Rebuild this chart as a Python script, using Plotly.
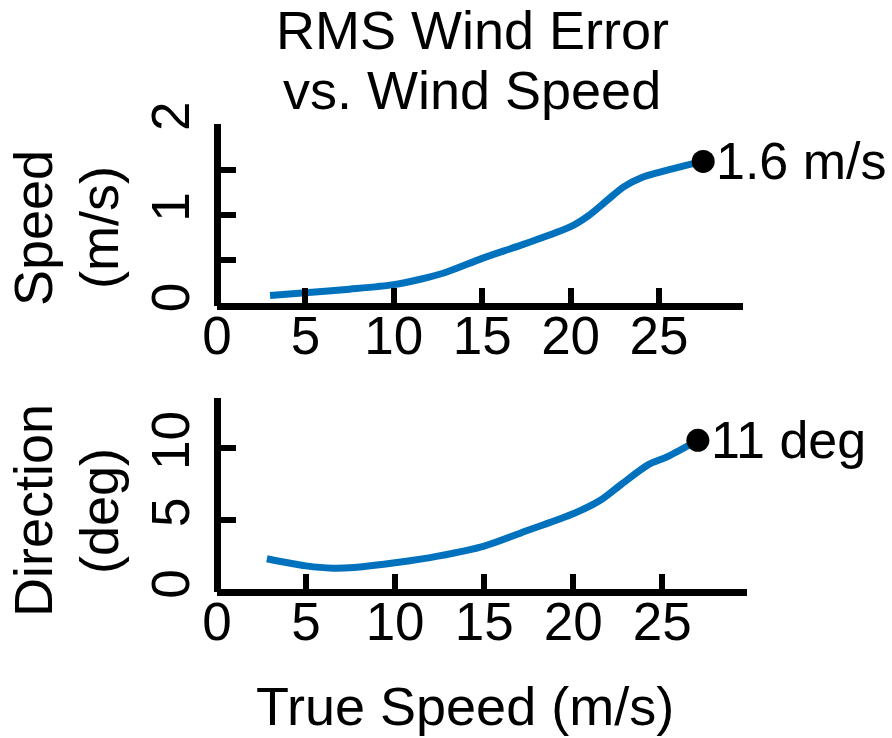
import plotly.graph_objects as go

# ---- data -------------------------------------------------------------
# RMS wind-speed error vs. true wind speed
speed_true = [3.0, 5.0, 7.5, 10.0, 11.5, 13.0, 15.0, 17.4, 20.0, 21.0, 22.0, 23.0, 24.0, 25.0, 26.2, 27.5]
speed_rms = [0.11, 0.14, 0.18, 0.23, 0.29, 0.37, 0.52, 0.68, 0.87, 0.99, 1.15, 1.31, 1.41, 1.47, 1.53, 1.59]

# RMS wind-direction error vs. true wind speed
dir_true = [2.8, 5.0, 6.5, 7.7, 10.1, 12.4, 15.0, 17.5, 20.0, 21.5, 22.7, 24.2, 25.3, 27.0]
dir_rms = [2.32, 1.82, 1.66, 1.71, 2.05, 2.5, 3.2, 4.32, 5.45, 6.37, 7.5, 8.86, 9.43, 10.57]

x_ticks = [0, 5, 10, 15, 20, 25]
x_max = 29.75
speed_ticks = [0, 0.5, 1, 1.5, 2]
speed_tick_text = ["0", "", "1", "", "2"]
dir_ticks = [0, 5, 10]
dir_max = 13.55

# ---- layout helpers ---------------------------------------------------
W, H = 892, 738
FONT = "Liberation Sans, Arial, sans-serif"
BLUE = "#0072BD"
LW = 6.5


def fx(px):
    return px / W


def fy(px):
    return 1 - px / H


fig = go.Figure()

fig.add_trace(go.Scatter(x=speed_true, y=speed_rms, mode="lines",
                         line=dict(color=BLUE, width=7, shape="spline", smoothing=0.8),
                         xaxis="x", yaxis="y", cliponaxis=False, hoverinfo="skip"))
fig.add_trace(go.Scatter(x=[speed_true[-1]], y=[speed_rms[-1]], mode="markers",
                         marker=dict(color="black", size=23),
                         xaxis="x", yaxis="y", cliponaxis=False, hoverinfo="skip"))
fig.add_trace(go.Scatter(x=dir_true, y=dir_rms, mode="lines",
                         line=dict(color=BLUE, width=7, shape="spline", smoothing=0.8),
                         xaxis="x2", yaxis="y2", cliponaxis=False, hoverinfo="skip"))
fig.add_trace(go.Scatter(x=[dir_true[-1]], y=[dir_rms[-1]], mode="markers",
                         marker=dict(color="black", size=23),
                         xaxis="x2", yaxis="y2", cliponaxis=False, hoverinfo="skip"))

axis_common = dict(showline=True, linecolor="black", linewidth=LW, ticks="inside",
                   ticklen=15, tickwidth=5.5, tickcolor="black", showgrid=False,
                   zeroline=False, fixedrange=True, automargin=False,
                   tickfont=dict(family=FONT, size=53, color="black"))

x_vals = x_ticks + [x_max]
x_text = [str(v) for v in x_ticks] + [""]

# top panel: origin at (217, 305.5), x=25 at 659, y=2 at 124.3
fig.update_layout(
    xaxis=dict(axis_common, domain=[fx(217), fx(217 + x_max * 17.68)], range=[0, x_max],
               anchor="free", position=fy(305.5), tickvals=x_vals, ticktext=x_text,
               ticklabelstandoff=-19),
    yaxis=dict(axis_common, domain=[fy(305.5), fy(124.3)], range=[0, 2],
               anchor="free", position=fx(217), tickvals=speed_ticks, ticktext=speed_tick_text,
               tickangle=-90, ticklabelstandoff=4),
    # bottom panel: origin at (217, 592), x=25 at 662.3, y=10 at 448.5
    xaxis2=dict(axis_common, domain=[fx(217), fx(217 + x_max * 17.81)], range=[0, x_max],
                anchor="free", position=fy(592), tickvals=x_vals, ticktext=x_text,
                ticklabelstandoff=-19),
    yaxis2=dict(axis_common, domain=[fy(592), fy(592 - dir_max * 14.35)], range=[0, dir_max],
                anchor="free", position=fx(217), tickvals=dir_ticks,
                tickangle=-90, ticklabelstandoff=4),
)

text_font = dict(family=FONT, size=54, color="black")
annotations = [
    # title
    dict(text="RMS Wind Error", x=fx(472), y=fy(30.5), xref="paper", yref="paper"),
    dict(text="vs. Wind Speed", x=fx(472), y=fy(90), xref="paper", yref="paper"),
    # x-axis title
    dict(text="True Speed (m/s)", x=fx(465), y=fy(706), xref="paper", yref="paper"),
    # y-axis titles
    dict(text="Speed", x=fx(33), y=fy(228), xref="paper", yref="paper", textangle=-90),
    dict(text="(m/s)", x=fx(99), y=fy(228), xref="paper", yref="paper", textangle=-90),
    dict(text="Direction", x=fx(33), y=fy(511), xref="paper", yref="paper", textangle=-90),
    dict(text="(deg)", x=fx(99), y=fy(511), xref="paper", yref="paper", textangle=-90),
]
for a in annotations:
    a.update(showarrow=False, xanchor="center", yanchor="middle", font=text_font)

# end-point value labels
value_font = dict(family=FONT, size=52, color="black")
annotations.append(dict(text=f"{speed_rms[-1]:.1f} m/s", x=speed_true[-1], y=speed_rms[-1],
                        xref="x", yref="y", xanchor="left", yanchor="middle", xshift=11,
                        showarrow=False, font=value_font))
annotations.append(dict(text=f"{dir_rms[-1]:.0f} deg", x=dir_true[-1], y=dir_rms[-1],
                        xref="x2", yref="y2", xanchor="left", yanchor="middle", xshift=11,
                        showarrow=False, font=value_font))

fig.update_layout(
    annotations=annotations,
    width=W, height=H, autosize=False,
    margin=dict(l=0, r=0, t=0, b=0, pad=0, autoexpand=False),
    paper_bgcolor="white", plot_bgcolor="white",
    showlegend=False,
)

fig.write_html("out.html", config={"displayModeBar": False})
